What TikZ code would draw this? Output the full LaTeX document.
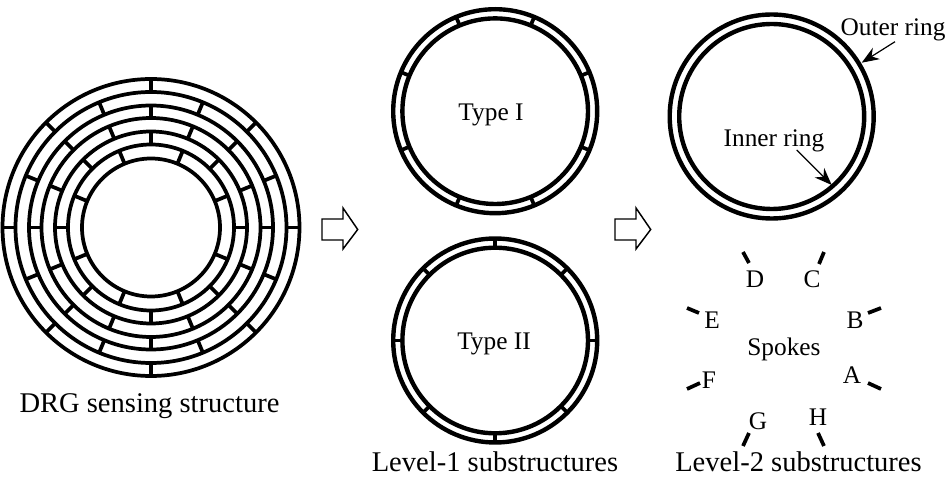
\documentclass[tikz,border=0pt]{standalone}
\usepackage{fontspec}
\setmainfont{Liberation Serif}
\usetikzlibrary{arrows.meta}
\tikzset{
  x=0.75pt,y=-0.75pt,
  ringline/.style={line width=2.8pt,draw=black},
  bigring/.style={line width=3.3pt,draw=black},
  spokeline/.style={line width=2.8pt,draw=black},
  blockarrow/.style={line width=1.1pt,draw=black,line join=miter},
  pointer/.style={line width=0.9pt,-{Stealth[length=13pt,width=10pt]}},
  biglabel/.style={anchor=base,inner sep=0pt,font=\fontsize{21.4pt}{24pt}\selectfont},
  smalllabel/.style={anchor=base,inner sep=0pt,font=\fontsize{19pt}{22pt}\selectfont}
}
\begin{document}
\begin{tikzpicture}
\useasboundingbox (0,0) rectangle (951,477);
% DRG structure
\coordinate (drg) at (151,227.5);
\foreach \r in {148.5,135.5,122,109.5,96,83,69}
  \draw[ringline] (drg) circle[radius=\r];
\foreach \ra/\rb/\off in {148.5/135.5/0,135.5/122/22.5,122/109.5/0,109.5/96/22.5,96/83/0,83/69/22.5}
  \foreach \k in {0,...,7}
    \draw[spokeline] (drg) ++({\off+45*\k}:\ra) -- ++({\off+45*\k}:{\rb-\ra});
% Type I
\coordinate (typeone) at (495.2,111.2);
\foreach \r in {102,92.8}
  \draw[bigring] (typeone) circle[radius=\r];
\foreach \k in {0,...,7}
  \draw[spokeline] (typeone) ++({22.5+45*\k}:102) -- ++({22.5+45*\k}:-9.2);
% Type II
\coordinate (typetwo) at (495.2,340.5);
\foreach \r in {102,92.8}
  \draw[bigring] (typetwo) circle[radius=\r];
\foreach \k in {0,...,7}
  \draw[spokeline] (typetwo) ++({45*\k}:102) -- ++({45*\k}:-9.2);
% Rings
\coordinate (rings) at (771.7,116.5);
\foreach \r in {102,92.5}
  \draw[bigring] (rings) circle[radius=\r];
% Separate spokes
\foreach \xa/\ya/\xb/\yb in {743/252/749/263,824/252/819/264,881/308/868/313,868/383/881/389,818/433/824/446,749/433/743/446,700/383/687/389,687/308/699/313}
  \draw[spokeline] (\xa,\ya) -- (\xb,\yb);
% Block arrows
\draw[blockarrow] (322,219) -- (343,219) -- (343,208) -- (357.7,229.5) -- (343,249) -- (343,240) -- (322,240) -- cycle;
\draw[blockarrow] (615,219) -- (636,219) -- (636,208) -- (650.7,229.5) -- (636,249) -- (636,240) -- (615,240) -- cycle;
% Labels
\node[biglabel] (drglabel) at (149.5,413) {DRG sensing structure};
\node[biglabel] (levelone) at (495,472) {Level-1 substructures};
\node[biglabel] (leveltwo) at (798.5,472) {Level-2 substructures};
\node[smalllabel] (typeI) at (491,121) {Type I};
\node[smalllabel] (typeII) at (494,350) {Type II};
\node[smalllabel] (outer) at (893,36) {Outer ring};
\node[smalllabel] (inner) at (774,147) {Inner ring};
\node[smalllabel] (spokes) at (784,356) {Spokes};
\node[smalllabel] (A) at (852,384) {A};
\node[smalllabel] (B) at (855,328.5) {B};
\node[smalllabel] (C) at (812,287.5) {C};
\node[smalllabel] (D) at (755,287.5) {D};
\node[smalllabel] (E) at (712,328.5) {E};
\node[smalllabel] (F) at (709,388.5) {F};
\node[smalllabel] (G) at (758,430) {G};
\node[smalllabel] (H) at (818,426) {H};
% Pointers
\coordinate (outerfrom) at (895,41.7);
\coordinate (outerto) at (861.7,62.7);
\coordinate (innerfrom) at (796.7,150);
\coordinate (innerto) at (831.7,185);
\draw[pointer] (outerfrom) -- (outerto);
\draw[pointer] (innerfrom) -- (innerto);
\end{tikzpicture}
\end{document}
